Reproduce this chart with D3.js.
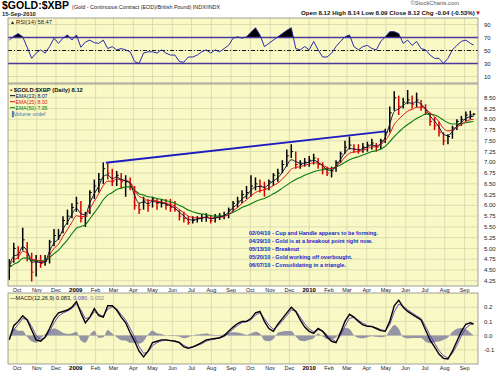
<!DOCTYPE html>
<html>
<head>
<meta charset="utf-8">
<script src="https://cdn.jsdelivr.net/npm/d3@7"></script>
<style>
body { margin: 0; background: #fff; }
svg text { font-family: "Liberation Sans", Arial, sans-serif; }
</style>
</head>
<body>
<svg id="chart" width="500" height="374"></svg>
<script>
// weekly bars, week ending Fridays from 19-Sep-2008, last bar 15-Sep-2010
var highs = [4.75,5.13,5.05,5.48,5.15,4.90,4.85,4.85,4.85,5.20,
  5.45,5.45,5.75,5.90,6.05,6.20,6.10,5.85,6.35,6.60,
  6.75,7.00,6.98,6.85,6.80,6.75,6.70,6.65,6.45,6.05,
  6.20,6.15,6.20,6.15,6.15,6.15,6.15,6.10,5.90,5.85,
  5.75,5.75,5.75,5.80,5.82,5.78,5.80,5.82,5.85,5.95,
  6.10,6.20,6.35,6.45,6.70,6.65,6.60,6.55,6.60,6.75,
  6.85,7.05,7.30,7.42,7.25,7.05,7.10,7.15,7.20,7.10,
  7.00,6.90,6.90,7.05,7.25,7.50,7.60,7.42,7.42,7.45,
  7.48,7.55,7.45,7.55,7.78,8.30,8.65,8.55,8.50,8.68,
  8.55,8.62,8.45,8.35,8.15,8.05,7.95,7.70,7.65,7.85,
  8.00,8.08,8.18,8.20,8.14];
var lows = [4.27,4.67,4.75,4.95,4.70,4.23,4.35,4.55,4.60,4.65,
  5.05,5.20,5.35,5.55,5.70,5.85,5.60,5.50,5.80,6.15,
  6.30,6.50,6.60,6.45,6.45,6.40,6.20,6.35,5.90,5.80,
  5.90,5.85,5.95,5.90,5.95,5.90,5.85,5.85,5.65,5.60,
  5.55,5.58,5.60,5.62,5.62,5.58,5.60,5.66,5.68,5.70,
  5.85,5.95,6.05,6.15,6.20,6.35,6.30,6.20,6.35,6.45,
  6.55,6.75,6.90,7.10,6.85,6.85,6.90,6.90,6.95,6.85,
  6.72,6.68,6.65,6.78,6.98,7.20,7.30,7.22,7.20,7.22,
  7.25,7.30,7.25,7.30,7.45,7.70,8.20,8.10,8.25,8.35,
  8.25,8.28,8.20,8.10,7.85,7.75,7.60,7.40,7.42,7.55,
  7.75,7.85,7.95,8.00,8.09];
var closes = [4.60,5.00,4.90,5.20,4.85,4.45,4.70,4.65,4.70,5.15,
  5.30,5.30,5.65,5.75,5.95,6.05,5.70,5.75,6.30,6.45,
  6.60,6.85,6.75,6.55,6.70,6.55,6.55,6.45,6.00,5.90,
  6.10,6.00,6.15,6.05,6.05,6.00,5.95,5.90,5.75,5.70,
  5.60,5.65,5.70,5.72,5.75,5.65,5.72,5.75,5.78,5.90,
  6.05,6.10,6.25,6.30,6.45,6.50,6.45,6.40,6.55,6.70,
  6.75,6.95,7.15,7.25,6.95,6.95,7.00,7.05,7.10,6.95,
  6.85,6.75,6.80,7.00,7.20,7.35,7.40,7.30,7.28,7.35,
  7.40,7.45,7.35,7.50,7.70,8.15,8.50,8.30,8.40,8.45,
  8.35,8.45,8.30,8.15,7.95,7.85,7.70,7.50,7.60,7.80,
  7.95,8.00,8.10,8.10,8.12];
var ema13 = [4.60,4.82,4.86,5.04,4.94,4.68,4.69,4.67,4.69,4.94,
  5.13,5.22,5.45,5.61,5.79,5.93,5.81,5.78,6.06,6.27,
  6.45,6.67,6.71,6.62,6.66,6.60,6.57,6.51,6.23,6.05,
  6.08,6.04,6.10,6.07,6.06,6.03,5.99,5.94,5.84,5.76,
  5.67,5.66,5.68,5.70,5.73,5.69,5.71,5.73,5.76,5.84,
  5.95,6.03,6.15,6.23,6.35,6.43,6.44,6.42,6.49,6.57,
  6.64,6.77,6.93,7.06,7.02,6.98,6.98,7.01,7.05,7.00,
  6.92,6.83,6.81,6.91,7.07,7.22,7.32,7.31,7.29,7.32,
  7.36,7.41,7.38,7.44,7.58,7.89,8.18,8.24,8.32,8.39,
  8.37,8.41,8.35,8.24,8.08,7.96,7.82,7.65,7.62,7.72,
  7.84,7.93,8.02,8.06,8.07];
var ema25 = [4.60,4.73,4.79,4.93,4.90,4.75,4.73,4.70,4.70,4.85,
  5.00,5.10,5.28,5.44,5.61,5.76,5.74,5.74,5.92,6.10,
  6.27,6.46,6.56,6.56,6.61,6.59,6.58,6.54,6.36,6.21,
  6.17,6.11,6.12,6.10,6.08,6.05,6.02,5.98,5.90,5.83,
  5.75,5.72,5.71,5.71,5.72,5.70,5.71,5.72,5.74,5.79,
  5.88,5.95,6.05,6.13,6.22,6.30,6.34,6.36,6.40,6.46,
  6.52,6.61,6.72,6.84,6.88,6.90,6.93,6.96,6.99,6.98,
  6.94,6.88,6.85,6.90,7.00,7.12,7.21,7.24,7.25,7.28,
  7.32,7.36,7.36,7.41,7.51,7.66,7.88,8.00,8.10,8.19,
  8.23,8.28,8.28,8.24,8.15,8.06,7.94,7.79,7.73,7.75,
  7.82,7.88,7.95,7.99,8.00];
var ema50 = [4.55,4.63,4.68,4.77,4.78,4.72,4.72,4.71,4.71,4.79,
  4.88,4.96,5.08,5.20,5.34,5.47,5.51,5.55,5.69,5.83,
  5.97,6.13,6.24,6.30,6.37,6.40,6.43,6.43,6.35,6.27,
  6.24,6.20,6.19,6.16,6.14,6.11,6.08,6.05,6.00,5.95,
  5.89,5.85,5.82,5.80,5.79,5.76,5.75,5.75,5.76,5.79,
  5.84,5.89,5.95,5.99,6.04,6.09,6.13,6.16,6.21,6.27,
  6.33,6.40,6.47,6.54,6.60,6.65,6.70,6.74,6.78,6.81,
  6.83,6.85,6.86,6.89,6.94,7.00,7.06,7.10,7.13,7.17,
  7.21,7.25,7.27,7.31,7.37,7.48,7.60,7.70,7.80,7.88,
  7.95,8.02,8.07,8.12,8.12,8.10,8.05,7.98,7.92,7.89,
  7.89,7.90,7.92,7.94,7.95];
var rsi14 = [66,72,76,71,55,38,46,51,46,56,
  69,61,69,74,66,74,55,63,66,62,
  61,66,53,56,51,53,51,48,33,30,
  46,48,48,46,51,46,43,43,33,32,
  40,40,43,48,51,46,51,48,53,58,
  69,71,69,71,78,85,74,56,61,66,
  71,76,81,85,53,51,56,51,64,51,
  40,40,46,56,64,71,74,56,51,56,
  58,53,51,64,71,79,79,76,61,66,
  58,64,53,51,43,38,38,30,38,51,
  58,64,66,61,58.47];
var macdLine = [-0.03,0.07,0.10,0.14,0.11,0.04,-0.03,-0.04,-0.01,0.05,
  0.12,0.16,0.17,0.18,0.20,0.24,0.16,0.09,0.13,0.19,
  0.14,0.13,0.21,0.21,0.18,0.13,0.09,0.02,-0.04,-0.11,
  -0.15,-0.11,-0.05,-0.04,-0.03,-0.03,-0.035,-0.04,-0.05,-0.08,
  -0.09,-0.08,-0.065,-0.05,-0.03,-0.025,-0.02,-0.015,0.0,0.03,
  0.06,0.085,0.10,0.10,0.12,0.16,0.17,0.10,0.05,0.03,
  0.08,0.12,0.16,0.20,0.17,0.11,0.06,0.03,0.016,0.05,
  0.03,-0.01,-0.04,-0.05,0.02,0.10,0.15,0.13,0.10,0.075,
  0.065,0.063,0.05,0.035,0.03,0.10,0.21,0.25,0.20,0.17,
  0.15,0.13,0.11,0.04,-0.03,-0.08,-0.13,-0.16,-0.165,-0.11,
  -0.04,0.03,0.08,0.09,0.083];
var signalLine = [-0.02,0.04,0.08,0.12,0.115,0.065,0.0,-0.027,-0.016,0.028,
  0.09,0.137,0.159,0.173,0.191,0.224,0.181,0.12,0.127,0.169,
  0.15,0.137,0.186,0.202,0.187,0.149,0.11,0.05,-0.01,-0.077,
  -0.126,-0.115,-0.071,-0.05,-0.037,-0.032,-0.034,-0.038,-0.046,-0.069,
  -0.083,-0.081,-0.07,-0.057,-0.039,-0.03,-0.023,-0.018,-0.006,0.018,
  0.046,0.072,0.091,0.097,0.112,0.144,0.161,0.12,0.073,0.044,
  0.068,0.103,0.141,0.181,0.174,0.131,0.083,0.048,0.027,0.042,
  0.034,0.005,-0.025,-0.042,0.0,0.067,0.123,0.128,0.109,0.086,
  0.072,0.066,0.055,0.042,0.034,0.078,0.166,0.222,0.207,0.182,
  0.16,0.14,0.12,0.066,0.002,-0.053,-0.105,-0.142,-0.157,-0.126,
  -0.068,-0.002,0.053,0.078,0.080];
var macdHist = [-0.015,0.05,0.035,0.035,-0.01,-0.04,-0.05,-0.02,0.01,0.035,
  0.05,0.04,0.02,0.012,0.015,0.027,-0.035,-0.05,0.005,0.035,
  -0.017,-0.012,0.04,0.014,-0.012,-0.032,-0.034,-0.05,-0.05,-0.056,
  -0.04,0.008,0.035,0.017,0.012,0.003,-0.002,-0.003,-0.007,-0.019,
  -0.012,0.002,0.008,0.012,0.015,0.008,0.005,0.005,0.01,0.02,
  0.024,0.022,0.015,0.005,0.014,0.027,0.015,-0.034,-0.039,-0.024,
  0.02,0.029,0.032,0.032,-0.007,-0.036,-0.039,-0.03,-0.019,0.014,
  -0.007,-0.025,-0.025,-0.014,0.034,0.056,0.046,0.003,-0.015,-0.019,
  -0.012,-0.005,-0.008,-0.012,-0.007,0.037,0.075,0.048,-0.012,-0.02,
  -0.017,-0.017,-0.017,-0.044,-0.054,-0.046,-0.042,-0.03,-0.014,0.027,
  0.048,0.054,0.046,0.02,0.002];

var trendDates = [new Date(2009, 1, 17), new Date(2010, 3, 30)];
var trendValues = [6.99, 7.72];

var priceTicks = [4.25,4.50,4.75,5.00,5.25,5.50,5.75,6.00,6.25,6.50,6.75,7.00,7.25,7.50,7.75,8.00,8.25,8.50];
var rsiTicks = [10, 30, 50, 70, 90];
var macdTicks = [-0.1, 0.0, 0.1, 0.2];
var monthLabels = ["Oct","Nov","Dec","2009","Feb","Mar","Apr","May","Jun","Jul","Aug","Sep",
  "Oct","Nov","Dec","2010","Feb","Mar","Apr","May","Jun","Jul","Aug","Sep"];
var notes = ["02/04/10 - Cup and Handle appears to be forming.",
  "04/29/10 - Gold is at a breakout point right now.",
  "05/13/10 - Breakout",
  "05/20/10 - Gold working off overbought.",
  "06/07/10 - Consolidating in a triangle."];

var startWeek = new Date(2008, 8, 19);
var dates = closes.map(function(d, i) {
    return i < closes.length - 1 ? d3.timeDay.offset(startWeek, 7 * i) : new Date(2010, 8, 15);
});
var monthDates = monthLabels.map(function(d, i) { return d3.timeMonth.offset(new Date(2008, 9, 1), i); });

var L = 8, R = 478;
var rsiTop = 18, rsiBot = 83, priceTop = 84, priceBot = 286, macdTop = 293, macdBot = 364;
var bg = "#f9f9c6", gridCol = "#d6d5ae";

var svg = d3.select("#chart");

var x = d3.scaleTime().domain([new Date(2008, 8, 17), new Date(2010, 8, 22)]).range([L, R]);
var yR = d3.scaleLinear().domain([0, 100]).range([rsiBot, rsiTop]);
var yP = d3.scaleLinear().domain([4.127, 8.82]).range([priceBot, priceTop]);
var yM = d3.scaleLinear().domain([-0.2, 0.3]).range([macdBot, macdTop]);

var defs = svg.append("defs");
function clip(id, y0, y1) {
    defs.append("clipPath").attr("id", id).append("rect")
        .attr("x", L).attr("y", y0).attr("width", R - L).attr("height", y1 - y0);
}
clip("clipR", rsiTop, rsiBot);
clip("clipP", priceTop, priceBot);
clip("clipM", macdTop, macdBot);
clip("clipR70", rsiTop, yR(70));
clip("clipR30", yR(30), rsiBot);

// panel backgrounds and grids
function panel(y0, y1, ticks, yScale) {
    var g = svg.append("g");
    g.append("rect").attr("x", L).attr("y", y0).attr("width", R - L).attr("height", y1 - y0)
        .attr("fill", bg);
    g.selectAll(".vg").data(monthDates).enter().append("line")
        .attr("x1", d => x(d)).attr("x2", d => x(d))
        .attr("y1", y0).attr("y2", y1)
        .attr("stroke", gridCol).attr("stroke-width", 0.8);
    g.selectAll(".hg").data(ticks).enter().append("line")
        .attr("x1", L).attr("x2", R)
        .attr("y1", d => yScale(d)).attr("y2", d => yScale(d))
        .attr("stroke", gridCol).attr("stroke-width", 0.8);
    return g;
}
panel(rsiTop, rsiBot, rsiTicks, yR);
panel(priceTop, priceBot, priceTicks, yP);
panel(macdTop, macdBot, macdTicks, yM);

// ---- RSI ----
var rsiData = rsi14.map((v, i) => ({date: dates[i], v: v}));
var rsiLine = d3.line().x(d => x(d.date)).y(d => yR(d.v));
var rsiArea70 = d3.area().x(d => x(d.date)).y0(yR(70)).y1(d => yR(d.v));
var rsiArea30 = d3.area().x(d => x(d.date)).y0(yR(30)).y1(d => yR(d.v));
svg.append("path").datum(rsiData).attr("d", rsiArea70).attr("fill", "#000").attr("clip-path", "url(#clipR70)");
svg.append("path").datum(rsiData).attr("d", rsiArea30).attr("fill", "#000").attr("clip-path", "url(#clipR30)");
[70, 30].forEach(function(v) {
    svg.append("line").attr("x1", L).attr("x2", R).attr("y1", yR(v)).attr("y2", yR(v))
        .attr("stroke", "#4a3a9a").attr("stroke-width", 1.3);
});
svg.append("line").attr("x1", L).attr("x2", R).attr("y1", yR(50)).attr("y2", yR(50))
    .attr("stroke", "#000").attr("stroke-width", 0.9).attr("stroke-dasharray", "4,2,1,2");
svg.append("path").datum(rsiData).attr("d", rsiLine)
    .attr("fill", "none").attr("stroke", "#2a2aa8").attr("stroke-width", 1)
    .attr("clip-path", "url(#clipR)");

// ---- price ----
var gP = svg.append("g").attr("clip-path", "url(#clipP)");
var bars = closes.map((c, i) => ({date: dates[i], h: highs[i], l: lows[i], c: c,
    up: i === 0 || c >= closes[i - 1]}));
gP.selectAll(".bar").data(bars).enter().append("line")
    .attr("x1", d => x(d.date)).attr("x2", d => x(d.date))
    .attr("y1", d => yP(d.h)).attr("y2", d => yP(d.l))
    .attr("stroke", d => d.up ? "#000" : "#d40000").attr("stroke-width", 1.5);
gP.selectAll(".tick-c").data(bars).enter().append("line")
    .attr("x1", d => x(d.date)).attr("x2", d => x(d.date) + 2)
    .attr("y1", d => yP(d.c)).attr("y2", d => yP(d.c))
    .attr("stroke", d => d.up ? "#000" : "#d40000").attr("stroke-width", 1);

var emaLine = d3.line().curve(d3.curveMonotoneX).x((d, i) => x(dates[i])).y(d => yP(d));
gP.append("path").datum(ema50).attr("d", emaLine).attr("fill", "none").attr("stroke", "#0a7a0a").attr("stroke-width", 1.1);
gP.append("path").datum(ema25).attr("d", emaLine).attr("fill", "none").attr("stroke", "#e01010").attr("stroke-width", 1);
gP.append("path").datum(ema13).attr("d", emaLine).attr("fill", "none").attr("stroke", "#101040").attr("stroke-width", 1);

gP.append("line")
    .attr("x1", x(trendDates[0])).attr("y1", yP(trendValues[0]))
    .attr("x2", x(trendDates[1])).attr("y2", yP(trendValues[1]))
    .attr("stroke", "#1c1cc0").attr("stroke-width", 1.8);

// ---- MACD ----
var gM = svg.append("g").attr("clip-path", "url(#clipM)");
var histArea = d3.area().curve(d3.curveMonotoneX).x((d, i) => x(dates[i])).y0(yM(0)).y1(d => yM(d));
gM.append("path").datum(macdHist).attr("d", histArea).attr("fill", "#9494a4");
var mLine = d3.line().x((d, i) => x(dates[i])).y(d => yM(d));
gM.append("path").datum(signalLine).attr("d", mLine).attr("fill", "none").attr("stroke", "#5a3ab8").attr("stroke-width", 0.9);
gM.append("path").datum(macdLine).attr("d", mLine).attr("fill", "none").attr("stroke", "#000").attr("stroke-width", 1.4);

// panel borders
[[rsiTop, rsiBot], [priceTop, priceBot], [macdTop, macdBot]].forEach(function(p) {
    svg.append("rect").attr("x", L).attr("y", p[0]).attr("width", R - L).attr("height", p[1] - p[0])
        .attr("fill", "none").attr("stroke", "#8a8a80").attr("stroke-width", 0.8);
});

// right axis labels
function rightLabels(ticks, yScale, fmt) {
    svg.selectAll(null).data(ticks).enter().append("text")
        .attr("x", R + 6).attr("y", d => yScale(d)).attr("dy", "0.35em")
        .attr("font-size", 6).attr("fill", "#222").text(fmt);
}
rightLabels(rsiTicks, yR, d => d);
rightLabels(priceTicks, yP, d => d.toFixed(2));
rightLabels(macdTicks, yM, d => d.toFixed(1));

// month labels
[292, 370].forEach(function(yy) {
    svg.selectAll(null).data(monthLabels).enter().append("text")
        .attr("x", (d, i) => x(monthDates[i])).attr("y", yy)
        .attr("text-anchor", "middle")
        .attr("font-size", d => d.length === 4 ? 6 : 5.5)
        .attr("font-weight", d => d.length === 4 ? "bold" : "normal")
        .attr("fill", d => d.length === 4 ? "#000" : "#222")
        .text(d => d);
});

// header
var t = svg.append("text").attr("x", 2).attr("y", 9);
t.append("tspan").attr("font-size", 10.5).attr("font-weight", "bold").text("$GOLD:$XBP");
t.append("tspan").attr("font-size", 5.4).attr("dx", 3).attr("fill", "#222").text("(Gold - Continuous Contract (EOD)/British Pound) INDX/INDX");
svg.append("text").attr("x", 2).attr("y", 16).attr("font-size", 5.8).attr("font-weight", "bold").attr("fill", "#222").text("15-Sep-2010");
svg.append("text").attr("x", 459).attr("y", 5).attr("text-anchor", "end").attr("font-size", 5.8).attr("fill", "#555").text("\u00a9StockCharts.com");
var q = svg.append("text").attr("x", 481).attr("y", 15).attr("text-anchor", "end").attr("font-size", 6.2).attr("font-weight", "bold").attr("fill", "#111");
q.append("tspan").text("Open 8.12  High 8.14  Low 8.09  Close 8.12  Chg -0.04 (-0.53%)");
q.append("tspan").attr("fill", "#d00000").text("\u25bc");

// legends
var lr = svg.append("text").attr("x", 10).attr("y", 23.5).attr("font-size", 5.8).attr("fill", "#222");
lr.append("tspan").attr("font-size", 5).text("\u25b2");
lr.append("tspan").attr("dx", 1).text("RSI(14) 58.47");

svg.append("text").attr("x", 10).attr("y", 91.5).attr("font-size", 5.8).attr("font-weight", "bold").attr("fill", "#111")
    .text("\u25aa $GOLD:$XBP (Daily) 8.12");
var legItems = [["EMA(13) 8.07", "#101060"], ["EMA(25) 8.00", "#e01010"], ["EMA(50) 7.95", "#0a7a0a"]];
legItems.forEach(function(d, i) {
    var yy = 97.5 + i * 6;
    svg.append("line").attr("x1", 10).attr("x2", 15).attr("y1", yy - 1.8).attr("y2", yy - 1.8)
        .attr("stroke", i === 0 ? "#000" : d[1]).attr("stroke-width", 1);
    svg.append("text").attr("x", 15.5).attr("y", yy).attr("font-size", 5.2).attr("fill", d[1]).text(d[0]);
});
svg.append("text").attr("x", 10).attr("y", 115.5).attr("font-size", 5.2).attr("fill", "#3a7ab0").text("\u2590Volume undef");

var lm = svg.append("text").attr("x", 10).attr("y", 300).attr("font-size", 5.6).attr("fill", "#111");
lm.append("tspan").text("\u2014MACD(12,26,9) 0.083, ");
lm.append("tspan").attr("fill", "#6a4ac0").text("0.080");
lm.append("tspan").attr("fill", "#888").text(", 0.002");

// annotations
svg.selectAll(null).data(notes).enter().append("text")
    .attr("x", 249).attr("y", (d, i) => 235 + i * 8)
    .attr("font-size", 5.5).attr("font-weight", "bold").attr("fill", "#1a1acc")
    .text(d => d);
</script>
</body>
</html>
